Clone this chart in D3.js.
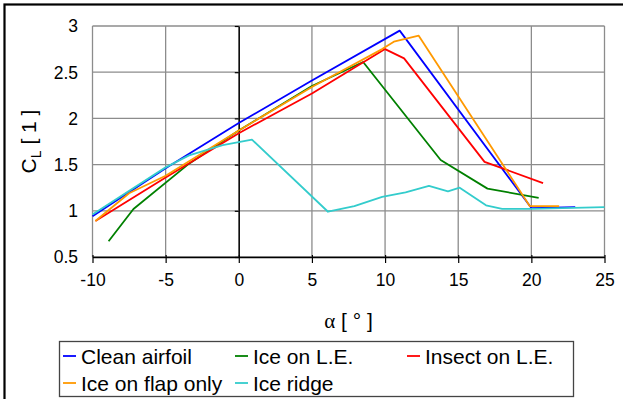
<!DOCTYPE html>
<html>
<head>
<meta charset="utf-8">
<script src="https://cdn.jsdelivr.net/npm/d3@7/dist/d3.min.js"></script>
<style>
  body { margin: 0; background: #fff; }
  svg { display: block; font-family: "Liberation Sans", Arial, sans-serif; }
</style>
</head>
<body>
<svg id="chart" width="623" height="399"></svg>
<script>
// ---- data ----
const seriesNames = ["Clean airfoil", "Ice on L.E.", "Insect on L.E.", "Ice on flap only", "Ice ridge"];
const seriesColors = ["#0000FF", "#008000", "#FF0000", "#FF9900", "#33CCCC"];

const cleanAirfoil = [[-10, 0.94], [-5, 1.46], [0, 1.95], [5, 2.41], [11, 2.95], [20, 1.03], [23, 1.04]];
const iceOnLE = [[-8.9, 0.67], [-7.2, 1.02], [-3.4, 1.51], [-1.8, 1.68], [0, 1.87], [5, 2.35], [8.5, 2.61], [13.8, 1.55], [17, 1.24], [20.5, 1.14]];
const insectOnLE = [[-9.8, 0.89], [-5, 1.36], [0, 1.84], [5, 2.27], [10, 2.75], [11.3, 2.65], [16.8, 1.53], [20.8, 1.30]];
const iceOnFlap = [[-9.8, 0.89], [-7.5, 1.19], [-5, 1.38], [0, 1.87], [5, 2.34], [9.8, 2.75], [10.6, 2.83], [12.3, 2.895], [19.9, 1.05], [21.9, 1.05]];
const iceRidge = [[-10, 0.96], [-5, 1.47], [-3.4, 1.60], [-1.1, 1.71], [0.9, 1.77], [6.1, 0.99], [7.9, 1.05], [9.8, 1.15], [11.4, 1.20], [13, 1.27], [14.3, 1.21], [15.1, 1.25], [16.9, 1.06], [18, 1.02], [20, 1.02], [25, 1.04]];

const xTicks = [-10, -5, 0, 5, 10, 15, 20, 25];
const yTicks = [0.5, 1, 1.5, 2, 2.5, 3];
const yTickLabels = ["0.5", "1", "1.5", "2", "2.5", "3"];

const allSeries = [cleanAirfoil, iceOnLE, insectOnLE, iceOnFlap, iceRidge];

// ---- layout ----
const svg = d3.select("#chart");
const plot = { left: 92.5, right: 604.5, top: 26, bottom: 257 };

const x = d3.scaleLinear().domain([-10, 25]).range([plot.left, plot.right]);
const y = d3.scaleLinear().domain([0.5, 3]).range([plot.bottom, plot.top]);

// outer frame
svg.append("rect").attr("x", 4.5).attr("y", 4.5).attr("width", 640).attr("height", 420)
  .attr("fill", "none").attr("stroke", "#000").attr("stroke-width", 2.2);

// gridlines
const grid = svg.append("g");
grid.selectAll("line.gx").data(xTicks).join("line")
  .attr("x1", d => x(d)).attr("x2", d => x(d))
  .attr("y1", plot.top).attr("y2", plot.bottom)
  .attr("stroke", "#8c8c8c").attr("stroke-width", 1.3);
grid.selectAll("line.gy").data(yTicks).join("line")
  .attr("x1", plot.left).attr("x2", plot.right)
  .attr("y1", d => y(d)).attr("y2", d => y(d))
  .attr("stroke", "#8c8c8c").attr("stroke-width", 1.3);

// x axis at y=0.5
const xAxis = d3.axisBottom(x).tickValues(xTicks).tickSize(6).tickSizeOuter(0).tickFormat(d3.format("d"));
const gx = svg.append("g").attr("transform", `translate(0,${y(0.5)})`).call(xAxis);
gx.select(".domain").attr("stroke", "#000").attr("stroke-width", 1.3);
gx.selectAll(".tick line").attr("stroke", "#000").attr("stroke-width", 1.2).attr("y1", -2);
gx.selectAll(".tick text").attr("font-size", 17.5).attr("fill", "#000").attr("dy", "1.15em")
  .text(d => d < 0 ? "-" + Math.abs(d) : d);

// y axis at x=0 (ticks only), labels at left edge
const yAxis = d3.axisLeft(y).tickValues(yTicks).tickSize(4).tickSizeOuter(0).tickFormat("");
const gy = svg.append("g").attr("transform", `translate(${x(0)},0)`).call(yAxis);
gy.select(".domain").attr("stroke", "#000").attr("stroke-width", 1.3);
gy.selectAll(".tick line").attr("stroke", "#000").attr("stroke-width", 1.2);

svg.append("g").selectAll("text").data(yTicks).join("text")
  .attr("x", 78).attr("y", d => y(d)).attr("dy", "0.36em")
  .attr("text-anchor", "end").attr("font-size", 17.5).attr("fill", "#000")
  .text((d, i) => yTickLabels[i]);

// series lines
const line = d3.line().x(d => x(d[0])).y(d => y(d[1]));
svg.append("g").selectAll("path").data(allSeries).join("path")
  .attr("d", line)
  .attr("fill", "none")
  .attr("stroke", (d, i) => seriesColors[i])
  .attr("stroke-width", 1.8)
  .attr("stroke-linejoin", "round");

// axis titles
const xt = svg.append("text").attr("x", (plot.left + plot.right) / 2).attr("y", 328)
  .attr("text-anchor", "middle").attr("font-size", 21).attr("fill", "#000");
xt.append("tspan").attr("font-family", "'Liberation Serif', 'DejaVu Serif', serif").text("α");
xt.append("tspan").text(" [ ° ]");

const yt = svg.append("text").attr("transform", `translate(36,${(plot.top + plot.bottom) / 2}) rotate(-90)`)
  .attr("text-anchor", "middle").attr("font-size", 21).attr("fill", "#000");
yt.append("tspan").text("C");
yt.append("tspan").attr("font-size", 14).attr("dy", 5).text("L");
yt.append("tspan").attr("dy", -5).text(" [ 1 ]");

// legend
const legend = svg.append("g");
legend.append("rect").attr("x", 59.5).attr("y", 341.5).attr("width", 514).attr("height", 55)
  .attr("fill", "#fff").attr("stroke", "#444").attr("stroke-width", 1.3);
const colX = [63, 235, 407];
const rowY = [356, 383];
const items = legend.selectAll("g.item").data(seriesNames).join("g")
  .attr("transform", (d, i) => `translate(${colX[i % 3]},${rowY[Math.floor(i / 3)]})`);
items.append("line").attr("x1", 0).attr("x2", 13).attr("y1", 0).attr("y2", 0)
  .attr("stroke", (d, i) => seriesColors[i]).attr("stroke-width", 1.8);
items.append("text").attr("x", 18).attr("y", 0).attr("dy", "0.36em")
  .attr("font-size", 21).attr("fill", "#000").text(d => d);
</script>
</body>
</html>
